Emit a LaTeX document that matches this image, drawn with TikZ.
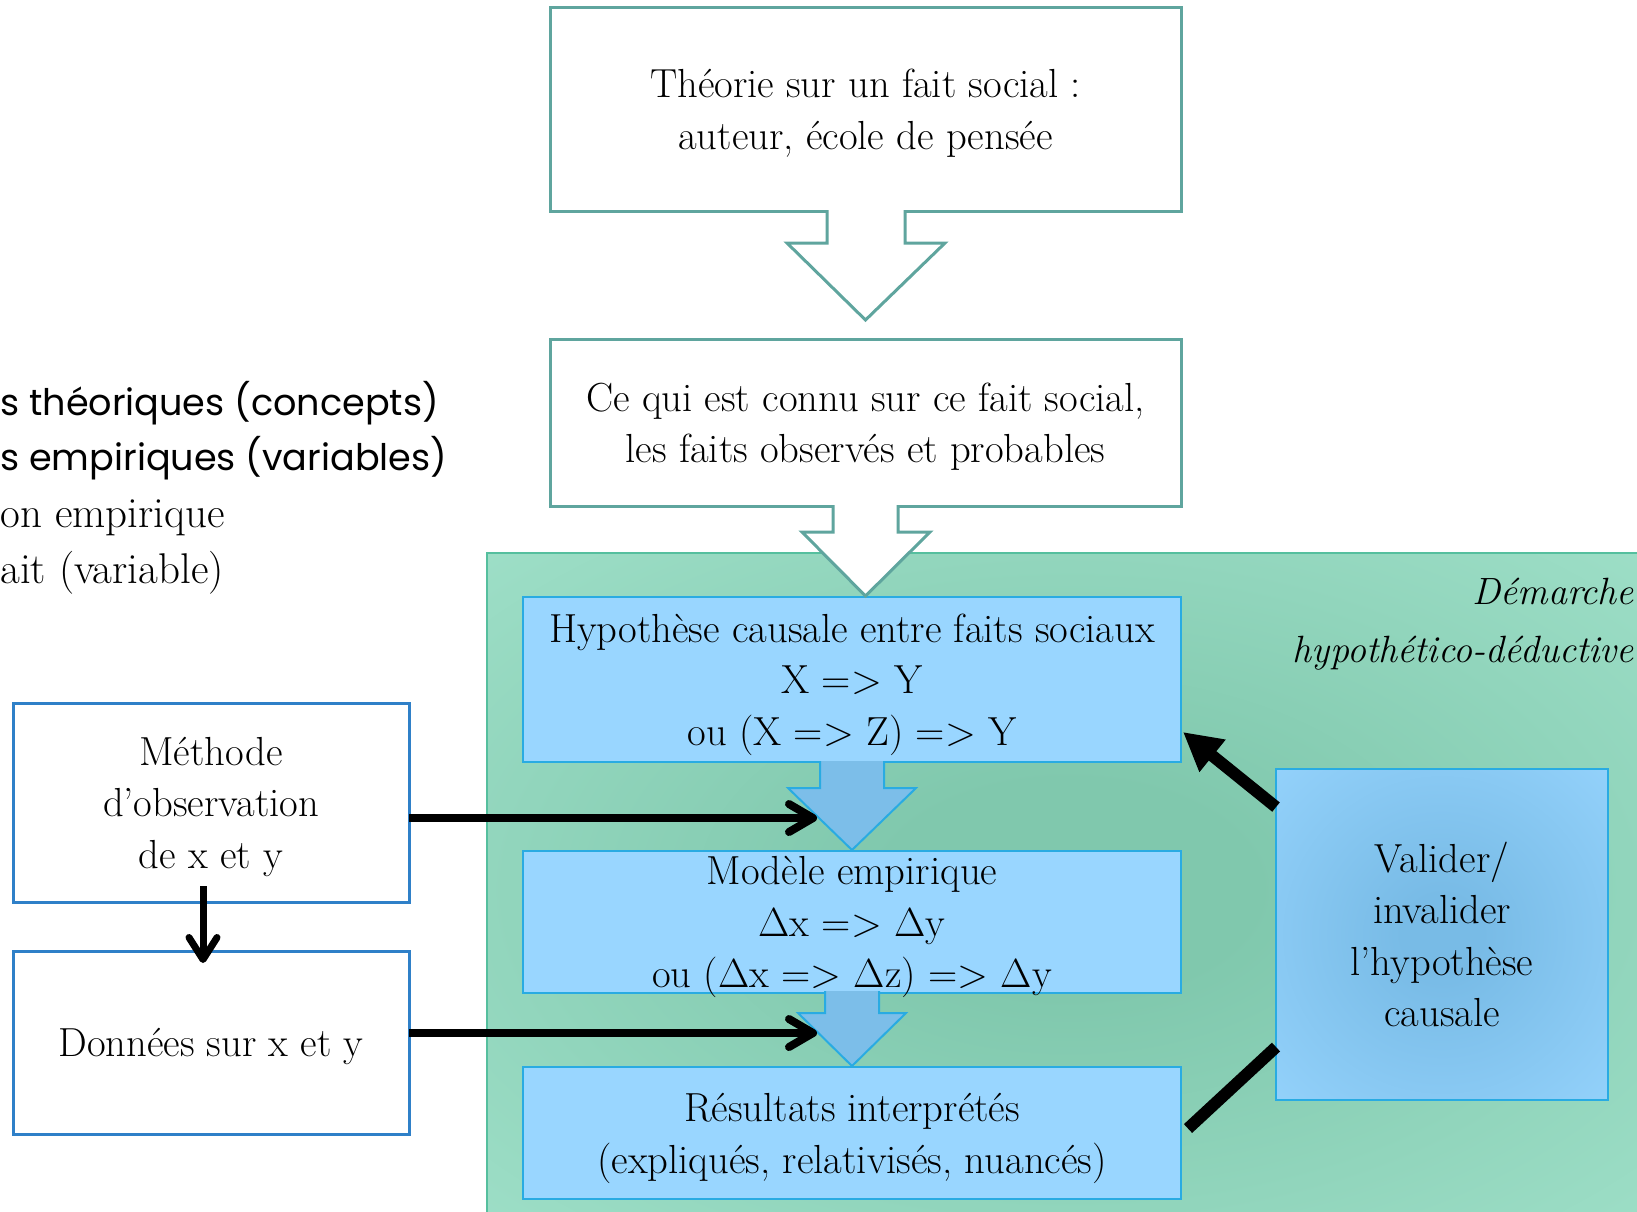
\documentclass[tikz,border=0pt]{standalone}
\usepackage{fontspec}
\newfontfamily\geofont{Poppins}
\usetikzlibrary{arrows.meta,calc}
\pgfdeclarelayer{bg}\pgfdeclarelayer{back}\pgfdeclarelayer{mid}
\pgfsetlayers{bg,back,mid,main}
\definecolor{tealc}{HTML}{5FA59E}
\definecolor{methb}{HTML}{2F80C8}
\definecolor{bborder}{HTML}{29ABE2}
\definecolor{blight}{HTML}{99D6FF}
\definecolor{bdark}{HTML}{78BBE6}
\definecolor{barrow}{HTML}{7CBEE9}
\definecolor{glight}{HTML}{A2E2CB}
\definecolor{gdark}{HTML}{80C8AD}
\definecolor{gborder}{HTML}{55BF9E}
\pgfdeclareradialshading{greenglow}{\pgfpoint{0bp}{0bp}}{color(0bp)=(gdark); color(8bp)=(gdark); color(40bp)=(glight); color(75bp)=(glight)}
\pgfdeclareradialshading{blueglow}{\pgfpoint{0bp}{0bp}}{color(0bp)=(bdark); color(6bp)=(bdark); color(42bp)=(blight); color(75bp)=(blight)}
\begin{document}
\begin{tikzpicture}[x=0.5pt,y=-0.5pt,
  txt/.style={inner sep=0pt, outer sep=0pt, align=center, font=\fontsize{20.3}{25.75}\selectfont},
  tealbox/.style={fill=white, draw=tealc, line width=1.5pt},
  whitebox/.style={fill=white, draw=methb, line width=1.5pt},
  bluebox/.style={left color=blight, middle color=bdark, right color=blight, draw=bborder, line width=1pt},
  tealarrow/.style={fill=white, draw=tealc, line width=1.5pt, line join=miter},
  bluearrow/.style={fill=barrow, draw=bborder, line width=1pt, line join=miter},
  conn/.style={line width=4pt, -{Straight Barb[length=12pt,width=14pt,round]}},
  conndown/.style={line width=3.5pt, -{Straight Barb[length=11pt,width=14pt,round]}},
  bigconn/.style={line width=6pt, -{Triangle[length=19pt,width=19.5pt]}},
  bigline/.style={line width=6pt},
  sidesans/.style={inner sep=0pt, anchor=base west, font=\geofont\fontsize{18.3}{20}\selectfont},
  sideserif/.style={inner sep=0pt, anchor=base west, font=\fontsize{21.5}{22}\selectfont}
]
\useasboundingbox (0,0) rectangle (1637,1211);

% text nodes (main layer); the text sits 5px below the box centre, boxes are drawn 5px higher
\node[txt, minimum width=315.5pt, minimum height=102pt] (theo) at (865.5,113) {Théorie sur un fait social :\\auteur, école de pensée};
\node[txt, minimum width=315.5pt, minimum height=83.5pt] (connu) at (865.5,426.5) {Ce qui est connu sur ce fait social,\\les faits observés et probables};
\node[txt, minimum width=329pt, minimum height=82.5pt] (hyp) at (852,684.5) {Hypothèse causale entre faits sociaux\\X => Y\\ou (X => Z) => Y};
\node[txt, minimum width=329pt, minimum height=70pt] (mod) at (852,927) {Modèle empirique\\Δx => Δy\\ou (Δx => Δz) => Δy};
\node[txt, minimum width=329pt, minimum height=66pt] (res) at (852,1138.5) {Résultats interprétés\\(expliqués, relativisés, nuancés)};
\node[txt, minimum width=198pt, minimum height=99.5pt] (meth) at (211,806.5) {Méthode\\d’observation\\de x et y};
\node[txt, minimum width=198pt, minimum height=91.5pt] (don) at (211,1046.5) {Données sur x et y};
\node[txt, minimum width=166pt, minimum height=165.5pt] (val) at (1442,934.5) {Valider/\\invalider\\l’hypothèse\\causale};

\node[sidesans] (l1) at (0,415) {s théoriques (concepts)};
\node[sidesans] (l2) at (0,470) {s empiriques (variables)};
\node[sideserif] (l3) at (0,527) {on empirique};
\node[sideserif] (l4) at (0,583) {ait (variable)};

% background region
\begin{pgfonlayer}{bg}
  \shadedraw[shading=greenglow, draw=gborder, line width=1pt] (487,553) rectangle (1650,1225);
  \node[txt, anchor=east, align=right, font=\itshape\fontsize{19}{29}\selectfont] (dem) at (1634,624) {Démarche\\hypothético-déductive};
\end{pgfonlayer}

% boxes
\begin{pgfonlayer}{back}
  \path[tealbox] ([yshift=2pt]theo.south west) rectangle ([yshift=2pt]theo.north east);
  \path[tealbox] ([yshift=2pt]connu.south west) rectangle ([yshift=2pt]connu.north east);
  \path[whitebox] ([yshift=2pt]meth.south west) rectangle ([yshift=2pt]meth.north east);
  \path[whitebox] ([yshift=2pt]don.south west) rectangle ([yshift=2pt]don.north east);
  \shadedraw[bluebox] ([yshift=2.5pt]hyp.south west) rectangle ([yshift=2.5pt]hyp.north east);
  \shadedraw[bluebox] ([yshift=2.5pt]mod.south west) rectangle ([yshift=2.5pt]mod.north east);
  \shadedraw[bluebox] ([yshift=2.75pt]res.south west) rectangle ([yshift=2.75pt]res.north east);
  \shadedraw[shading=blueglow, draw=bborder, line width=1pt] (val.south west) rectangle (val.north east);
\end{pgfonlayer}

% block arrows
\begin{pgfonlayer}{mid}
  \filldraw[tealarrow] (827,210) -- (827,243) -- (787,243) -- (865.5,320) -- (945,243) -- (905,243) -- (905,210);
  \filldraw[tealarrow] (833,505) -- (833,532) -- (802,532) -- (865.5,596) -- (930,532) -- (898,532) -- (898,505);
  \filldraw[bluearrow] (820,761) -- (820,788) -- (788,788) -- (852,850) -- (916,788) -- (884,788) -- (884,761);
  \filldraw[bluearrow] (825,991) -- (825,1013) -- (798,1013) -- (852,1066) -- (906,1013) -- (879,1013) -- (879,991);
\end{pgfonlayer}

% connectors
\coordinate (t1) at (817,818);
\coordinate (t2) at (817,1033);
\draw[conn] (meth.east |- t1) -- (t1);
\draw[conn] (don.east |- t2) -- (t2);
\draw[conndown] ($(meth.south)+(-8,-20)$) -- ($(don.north)+(-8,8)$);
\draw[bigconn] ($(val.north west)!0.115!(val.south west)$) -- ($(hyp.south east)+(2,-35)$);
\draw[bigline] ($(res.east)+(7,-10)$) -- ($(val.north west)!0.84!(val.south west)$);
\end{tikzpicture}
\end{document}
